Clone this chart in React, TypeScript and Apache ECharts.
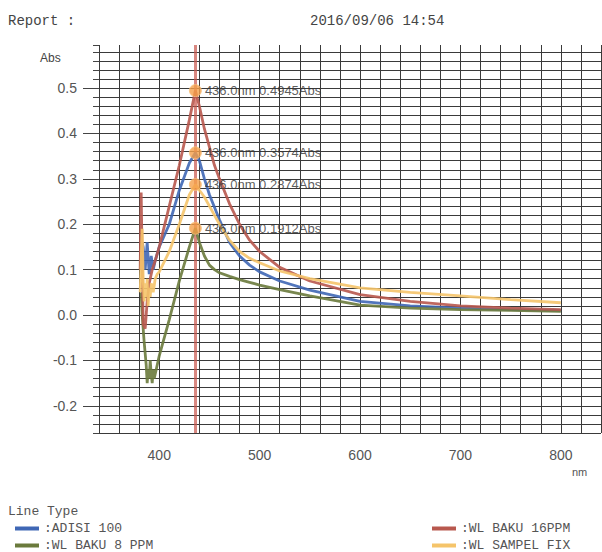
import React, { useEffect, useRef } from "react";
import * as echarts from "echarts";

// ---- data ----
const blueName = "ADISI 100";
const blueNm = [383, 384, 386, 388, 390, 392, 394, 396, 400, 410, 420, 430, 436, 440, 445, 450, 460, 470, 480, 490, 500, 520, 550, 600, 650, 700, 750, 800];
const blueAbs = [0.16, 0.15, 0.10, 0.16, 0.09, 0.13, 0.10, 0.12, 0.15, 0.2, 0.275, 0.335, 0.3574, 0.34, 0.30, 0.265, 0.21, 0.16, 0.13, 0.11, 0.095, 0.075, 0.055, 0.03, 0.02, 0.015, 0.012, 0.01];

const greenName = "WL BAKU 8 PPM";
const greenNm = [382, 383, 385, 387, 388, 389, 390, 391, 392, 393, 394, 395, 397, 400, 410, 420, 430, 436, 440, 445, 450, 455, 460, 470, 480, 490, 500, 520, 550, 600, 650, 700, 750, 800];
const greenAbs = [0.05, 0.0, -0.06, -0.11, -0.15, -0.12, -0.14, -0.10, -0.13, -0.15, -0.12, -0.14, -0.12, -0.09, -0.01, 0.075, 0.15, 0.1912, 0.16, 0.13, 0.11, 0.1, 0.093, 0.085, 0.078, 0.072, 0.066, 0.056, 0.042, 0.022, 0.015, 0.012, 0.01, 0.008];

const redName = "WL BAKU 16PPM";
const redNm = [381, 382, 383, 384, 386, 388, 390, 393, 396, 400, 410, 420, 430, 436, 440, 445, 450, 455, 460, 470, 480, 490, 500, 520, 550, 600, 650, 700, 750, 800];
const redAbs = [0.1, 0.27, 0.12, -0.02, -0.03, 0.03, 0.07, 0.1, 0.12, 0.15, 0.24, 0.33, 0.43, 0.4945, 0.46, 0.41, 0.37, 0.33, 0.30, 0.245, 0.2, 0.165, 0.14, 0.105, 0.075, 0.045, 0.03, 0.02, 0.015, 0.012];

const yellowName = "WL SAMPEL FIX";
const yellowNm = [381, 382, 383, 384, 385, 386, 387, 388, 389, 390, 391, 392, 394, 396, 398, 400, 410, 420, 430, 436, 440, 445, 450, 460, 470, 480, 490, 500, 520, 550, 600, 650, 700, 750, 800];
const yellowAbs = [0.05, 0.12, 0.19, 0.08, 0.03, 0.07, 0.04, 0.08, 0.02, 0.06, 0.04, 0.07, 0.05, 0.08, 0.09, 0.095, 0.14, 0.2, 0.265, 0.2874, 0.275, 0.26, 0.24, 0.2, 0.165, 0.14, 0.125, 0.115, 0.097, 0.08, 0.06, 0.05, 0.042, 0.034, 0.027];

const peakNm = 436.0;
const peakAbs = [0.4945, 0.3574, 0.2874, 0.1912];

const yTickValues = [-0.2, -0.1, 0, 0.1, 0.2, 0.3, 0.4, 0.5];
const xTickValues = [400, 500, 600, 700, 800];

const reportLabel = "Report :";
const reportDate = "2016/09/06 14:54";
const legendTitle = "Line Type";

export default function App() {
  const ref = useRef<HTMLDivElement>(null);

  useEffect(() => {
    const chart = echarts.init(ref.current!, null, { renderer: "svg" });
    const pair = (xs: number[], ys: number[]) => xs.map((x, i) => [x, ys[i]]);
    const mono = "'Liberation Mono', 'DejaVu Sans Mono', monospace";
    const sans = "'Liberation Sans', Arial, sans-serif";
    const gridColor = "#3a3a3a";

    const lineSeries = (name: string, xs: number[], ys: number[], color: string, extra: any = {}) => ({
      type: "line",
      name,
      data: pair(xs, ys),
      showSymbol: false,
      symbol: "none",
      lineStyle: { color, width: 2.8, opacity: 0.9 },
      itemStyle: { color },
      z: 3,
      ...extra,
    });

    const legendItem = (name: string, left: number, top: number) => ({
      data: [name],
      left,
      top,
      orient: "horizontal",
      icon: "rect",
      itemWidth: 24,
      itemHeight: 4,
      itemGap: 4,
      padding: 0,
      formatter: (n: string) => ":" + n,
      textStyle: { fontFamily: mono, fontSize: 13, color: "#555" },
    });

    chart.setOption({
      animation: false,
      backgroundColor: "#ffffff",
      grid: { left: 99, right: 1, top: 45, bottom: 119, containLabel: false },
      xAxis: [
        {
          type: "value",
          min: 340,
          max: 840,
          interval: 20,
          position: "bottom",
          axisLine: { show: false },
          splitLine: { show: false },
          axisTick: { show: true, customValues: xTickValues, length: 13, lineStyle: { color: "#444" } },
          axisLabel: { customValues: xTickValues, margin: 15, color: "#555", fontSize: 14, fontFamily: sans },
        },
        {
          type: "value",
          min: 340,
          max: 840,
          interval: 20,
          position: "bottom",
          axisLine: { show: false },
          splitLine: { show: true, lineStyle: { color: gridColor, width: 1 } },
          axisTick: { show: true, length: 4, lineStyle: { color: "#444" } },
          axisLabel: { show: false },
        },
      ],
      yAxis: [
        {
          type: "value",
          min: -0.26,
          max: 0.595,
          interval: 0.02,
          position: "left",
          axisLine: { show: false },
          splitLine: { show: false },
          axisTick: { show: true, customValues: yTickValues, length: 16, lineStyle: { color: "#444" } },
          axisLabel: {
            customValues: yTickValues,
            margin: 22,
            color: "#555",
            fontSize: 14,
            fontFamily: sans,
            formatter: (v: number) => v.toFixed(1),
          },
        },
        {
          type: "value",
          min: -0.26,
          max: 0.595,
          interval: 0.02,
          position: "left",
          axisLine: { show: false },
          splitLine: { show: true, showMaxLine: false, lineStyle: { color: gridColor, width: 1 } },
          axisTick: { show: true, length: 6, lineStyle: { color: "#444" } },
          axisLabel: { show: false },
        },
      ],
      legend: [
        legendItem(blueName, 15, 522),
        legendItem(greenName, 15, 539),
        legendItem(redName, 432, 522),
        legendItem(yellowName, 432, 539),
      ],
      graphic: [
        { type: "text", left: 8, top: 14, style: { text: reportLabel, font: `14px ${mono}`, fill: "#444" } },
        { type: "text", left: 310, top: 14, style: { text: reportDate, font: `14px ${mono}`, fill: "#444" } },
        { type: "text", left: 40, top: 52, style: { text: "Abs", font: `12px ${sans}`, fill: "#444" } },
        { type: "text", left: 572, top: 466, style: { text: "nm", font: `11px ${sans}`, fill: "#555" } },
        { type: "text", left: 8, top: 505, style: { text: legendTitle, font: `13px ${mono}`, fill: "#555" } },
      ],
      series: [
        lineSeries(blueName, blueNm, blueAbs, "#3f67b5", {
          markLine: {
            silent: true,
            symbol: ["none", "none"],
            label: { show: false },
            lineStyle: { color: "#c9564c", width: 3, type: "solid", opacity: 0.7 },
            data: [{ xAxis: peakNm }],
            z: 2,
          },
        }),
        lineSeries(greenName, greenNm, greenAbs, "#6a7a3c"),
        lineSeries(redName, redNm, redAbs, "#b8584e"),
        lineSeries(yellowName, yellowNm, yellowAbs, "#f5c46a"),
        {
          type: "scatter",
          name: "peaks",
          data: peakAbs.map((v) => [peakNm, v]),
          symbolSize: 12,
          itemStyle: { color: "#f5a04a", borderColor: "#f8c27e", borderWidth: 1 },
          label: {
            show: true,
            position: "right",
            distance: 3,
            color: "#333",
            fontSize: 13,
            fontFamily: sans,
            formatter: (p: any) => `${p.value[0].toFixed(1)}nm ${p.value[1].toFixed(4)}Abs`,
          },
          z: 5,
        },
      ],
    });

    return () => chart.dispose();
  }, []);

  return (
    <div
      ref={ref}
      style={{ position: "absolute", left: 0, top: 0, width: 602, height: 552, background: "#fff" }}
    />
  );
}
